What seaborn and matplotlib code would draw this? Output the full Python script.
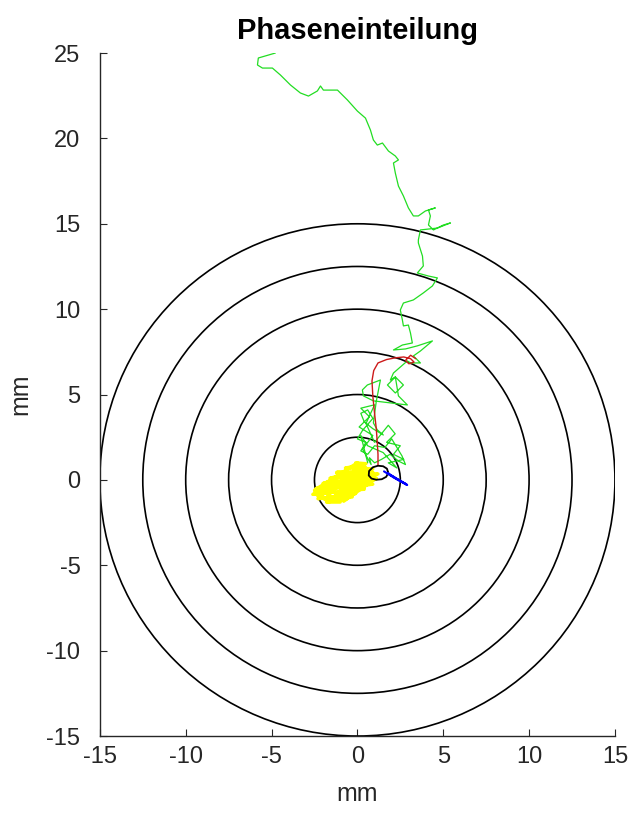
import matplotlib
matplotlib.use("Agg")
import matplotlib.pyplot as plt
from matplotlib.patches import Circle
import seaborn as sns
import pandas as pd

# Target rings (mm)
ring_radii = [2.5, 5.0, 7.5, 10.0, 12.5, 15.0]

# Approach phase (green)
green_x = [-4.78, -5.77, -5.82, -5.53, -4.95, -4.48, -3.90, -3.32, -2.85, -2.33, -2.15, -1.98,
           -1.16, -0.58, 0.00, 0.47, 0.76, 0.93, 1.16, 1.46, 1.81, 2.21, 2.39, 2.10, 2.21,
           2.39, 2.68, 2.97, 3.26, 3.55, 3.96, 4.54, 4.14, 4.25, 4.14, 4.43, 5.01, 5.42, 4.66,
           3.67, 3.55, 3.55, 3.79, 3.84, 3.49, 4.14, 4.66, 4.37, 3.84, 3.26, 2.68, 2.50, 2.62,
           2.68, 2.97, 3.09, 3.20, 2.62, 2.10, 2.80, 3.49, 4.37, 3.67, 3.26, 3.67, 3.09, 2.91,
           2.10, 1.92, 2.21, 2.68, 2.21, 1.75, 2.21, 2.39, 2.91, 1.92, 0.93, 0.35, 0.29, 0.58,
           1.34, 1.10, 0.93, 1.16, 1.51, 0.90, 0.40, 0.20, 0.60, 0.90, 0.30, 0.00, 0.50, 0.20,
           0.60, 1.00, 1.60, 2.00, 2.30, 2.60, 2.80, 2.40, 1.90, 1.40, 1.00, 0.70, 0.80,
           0.30, 0.90, 0.10, 0.70, 0.20, 1.00, 0.50, 1.00, 1.80, 2.20, 1.70, 2.50, 2.10, 2.70,
           1.80, 2.30, 1.50, 0.60, 0.20, 0.60]
green_y = [25.00, 24.71, 24.30, 24.12, 24.12, 23.71, 23.13, 22.66, 22.48, 22.78, 23.07, 22.83,
           22.83, 22.25, 21.60, 21.19, 20.49, 19.91, 19.61, 19.73, 19.26, 18.97, 18.74, 18.56,
           17.97, 17.21, 16.63, 15.93, 15.46, 15.46, 15.75, 15.93, 15.81, 15.46, 14.93, 14.64,
           14.93, 15.05, 14.75, 14.64, 14.05, 13.88, 13.11, 12.53, 12.12, 11.94, 11.83, 11.36,
           10.95, 10.54, 10.36, 9.95, 9.37, 9.02, 9.07, 8.61, 8.02, 7.90, 7.61, 7.67, 7.85, 8.14,
           7.55, 7.26, 6.85, 6.85, 6.97, 6.26, 5.85, 6.03, 5.56, 5.09, 5.56, 6.03, 4.92, 4.39,
           4.51, 4.63, 4.92, 5.27, 5.56, 5.85, 4.60, 3.34, 2.93, 2.63, 3.00, 3.40, 3.90, 4.10,
           3.60, 2.90, 2.40, 2.20, 1.70, 1.50, 2.00, 1.90, 2.40, 1.90, 1.40, 0.90, 1.10, 1.50,
           1.20, 1.00, 1.30, 0.90,
           1.80, 2.60, 3.10, 3.70, 4.20, 4.40, 3.30, 2.20, 3.20, 2.70, 2.20, 2.00, 1.50, 1.20,
           1.00, 0.70, 1.60, 2.00, 2.60, 1.00]

# Return phase (red)
red_x = [1.20, 1.20, 1.15, 1.10, 1.00, 0.90, 0.85, 0.95, 1.20, 1.70, 2.20, 2.70, 3.10, 3.30, 3.00, 2.80, 3.10, 3.40]
red_y = [0.85, 1.50, 2.30, 3.00, 3.90, 4.90, 5.80, 6.40, 6.85, 7.05, 7.15, 7.20, 7.10, 6.90, 6.80, 7.00, 7.30, 7.10]

# Search phase (yellow)
yellow_x = [-0.1, 0.5, 0.2, -0.7, 0.9, 0.6, -1.2, 1.2, 0.8, -1.6, -1.0, 1.1, 0.4, -2.0, -1.5,
            0.9, 0.2, -2.4, -1.8, 0.4, -0.3, -2.6, -2.0, -0.1, -0.8, -2.3, -1.5, -0.6, -1.8,
            -1.0, -1.4, -2.2, -1.2, -0.5, -0.7, 0.0, -0.2, 0.5, 0.3, 0.9, -0.4, -1.7, -2.5,
            -1.1, -0.3, -1.9, -0.9, 0.6, 0.1, -0.5,
            -2.3, 0.3, -1.4, 0.9, -2.5, 0.0, -0.8, 1.1, -1.9, 0.4, -1.2]
yellow_y = [1.0, 0.95, 0.85, 0.7, 0.65, 0.5, 0.45, 0.35, 0.2, 0.1, 0.25, 0.05, -0.1, -0.2,
            -0.05, -0.25, -0.35, -0.5, -0.35, -0.55, -0.6, -0.85, -0.7, -0.8, -0.95, -1.1,
            -1.0, -1.1, -1.3, -1.3, -0.6, -0.9, -0.3, -0.9, 0.3, -0.5, 0.8, -0.2, 0.9, 0.3,
            0.1, -0.6, -0.75, -0.45, -1.0, -1.15, 0.0, 0.1, 0.55, -0.15,
            -0.95, 0.75, -1.2, 0.45, -0.6, 1.0, -1.25, 0.1, -0.25, -0.45, 0.4]

# Hold phase (black loop)
black_x = [1.80, 1.72, 1.50, 1.20, 0.90, 0.68, 0.66, 0.82, 1.10, 1.42, 1.68, 1.80]
black_y = [0.42, 0.66, 0.80, 0.83, 0.74, 0.52, 0.26, 0.08, 0.01, 0.04, 0.18, 0.42]

# Exit phase (blue)
blue_x = [1.55, 2.10, 2.90, 2.50, 1.75, 2.30, 2.85]
blue_y = [0.50, 0.15, -0.30, -0.05, 0.40, 0.05, -0.25]

x_ticks = [-15, -10, -5, 0, 5, 10, 15]
y_ticks = [-15, -10, -5, 0, 5, 10, 15, 20, 25]

sns.set_theme(style="white")
plt.rcParams["font.family"] = ["Liberation Sans", "DejaVu Sans"]

fig = plt.figure(figsize=(6.32, 8.16), dpi=100)
ax = fig.add_axes([0.158, 0.098, 0.815, 0.837])

for r in ring_radii:
    ax.add_patch(Circle((0, 0), r, fill=False, edgecolor="black", linewidth=1.2, zorder=1))

def trace(xs, ys, color, lw):
    df = pd.DataFrame({"x": xs, "y": ys})
    sns.lineplot(data=df, x="x", y="y", sort=False, estimator=None, color=color,
                 linewidth=lw, ax=ax, zorder=3)

trace(yellow_x, yellow_y, "#ffff00", 2.4)
trace(green_x, green_y, "#22dd22", 0.9)
trace(red_x, red_y, "#cc1a1a", 1.0)
trace(black_x, black_y, "black", 1.3)
trace(blue_x, blue_y, "#0000ff", 1.5)

ax.set_xlim(-15, 15)
ax.set_ylim(-15, 25)
ax.set_xticks(x_ticks)
ax.set_yticks(y_ticks)
ax.set_xticklabels([str(v) for v in x_ticks])
ax.set_yticklabels([str(v) for v in y_ticks])

for side in ["top", "right"]:
    ax.spines[side].set_visible(False)
for side in ["left", "bottom"]:
    ax.spines[side].set_color("#262626")
    ax.spines[side].set_linewidth(1.0)

ax.tick_params(direction="in", length=5, width=0.8, colors="#262626",
               labelsize=17, labelcolor="#262626", bottom=True, left=True)
ax.tick_params(axis="x", pad=7)
ax.tick_params(axis="y", pad=14)

ax.set_xlabel("mm", fontsize=18, color="#262626", labelpad=10)
ax.set_ylabel("mm", fontsize=18, color="#262626", labelpad=10)
ax.set_title("Phaseneinteilung", fontsize=21, fontweight="bold", color="black", pad=10)

fig.savefig("out.png", dpi=100)
